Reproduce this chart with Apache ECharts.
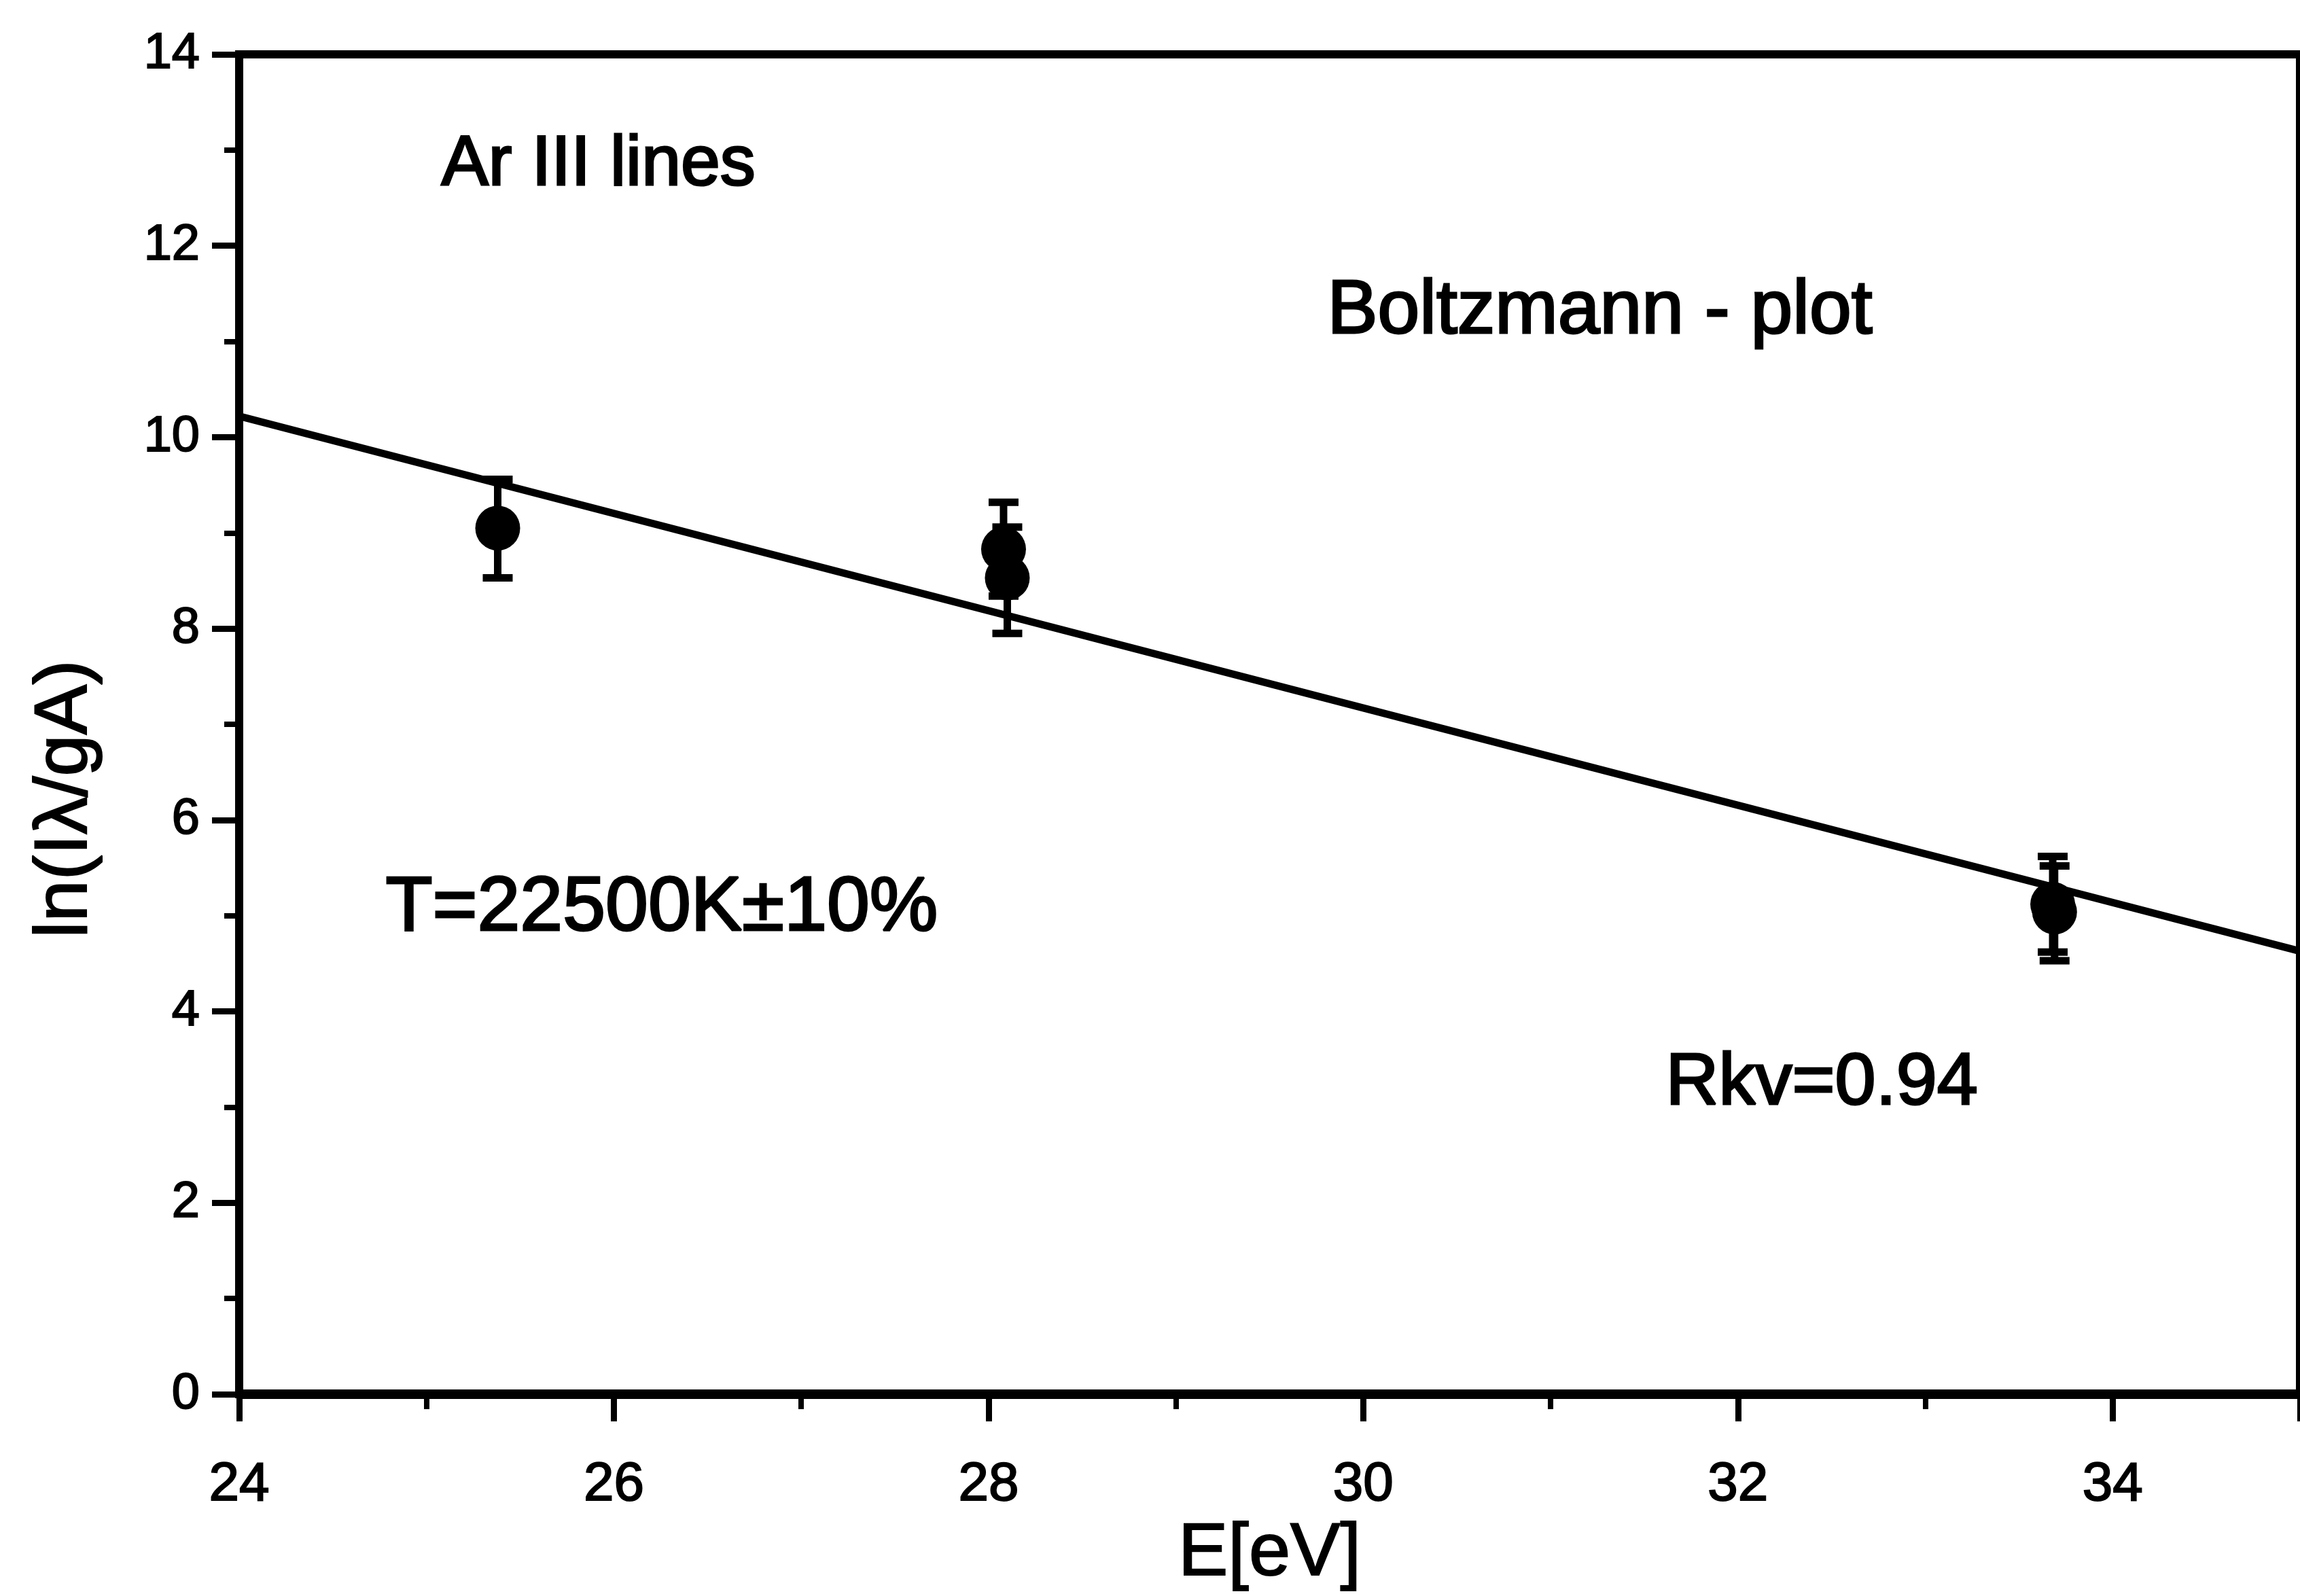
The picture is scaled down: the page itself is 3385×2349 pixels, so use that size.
<!DOCTYPE html>
<html>
<head>
<meta charset="utf-8">
<script src="https://cdn.jsdelivr.net/npm/echarts@6/dist/echarts.min.js"></script>
<style>
  html, body { margin: 0; padding: 0; background: #fff; }
  #chart { width: 3385px; height: 2349px; }
</style>
</head>
<body>
<div id="chart"></div>
<script>
// measured points (E in eV, ln(I*lambda/gA)) with error bar ends
const energy = [25.38, 28.08, 28.10, 33.68, 33.69];
const lnValue = [9.05, 8.83, 8.53, 5.12, 5.04];
const errLow = [8.53, 8.34, 7.95, 4.62, 4.53];
const errHigh = [9.56, 9.32, 9.06, 5.62, 5.52];

// fitted straight line
const fitX = [24, 35];
const fitY = [10.22, 4.63];

const xTicks = [24, 26, 28, 30, 32, 34];
const yTicks = [0, 2, 4, 6, 8, 10, 12, 14];

const chart = echarts.init(document.getElementById('chart'));

const font = 'Liberation Sans, Arial, sans-serif';

const points = energy.map((e, i) => [e, lnValue[i]]);
const bars = energy.map((e, i) => [e, errLow[i], errHigh[i]]);
const fitLine = fitX.map((x, i) => [x, fitY[i]]);

const renderErrorBar = (params, api) => {
  const top = api.coord([api.value(0), api.value(2)]);
  const bottom = api.coord([api.value(0), api.value(1)]);
  const half = 22;
  const style = { stroke: '#000', lineWidth: 11 };
  return {
    type: 'group',
    children: [
      { type: 'line', shape: { x1: top[0], y1: top[1], x2: bottom[0], y2: bottom[1] }, style },
      { type: 'line', shape: { x1: top[0] - half, y1: top[1], x2: top[0] + half, y2: top[1] }, style },
      { type: 'line', shape: { x1: bottom[0] - half, y1: bottom[1], x2: bottom[0] + half, y2: bottom[1] }, style }
    ]
  };
};

// scanned text looks heavy, thicken it with a thin outline
const note = (text, left, top, size) => ({
  type: 'text', left, top,
  style: { text, font: size + 'px ' + font, fill: '#000', stroke: '#000', lineWidth: 3 }
});

const option = {
  animation: false,
  backgroundColor: '#fff',
  grid: {
    left: 352, top: 80, right: -28, bottom: 296,
    show: true, borderColor: '#000', borderWidth: 12
  },
  xAxis: {
    type: 'value',
    min: 24, max: 35, interval: 2,
    name: 'E[eV]',
    nameLocation: 'middle',
    nameGap: 162,
    nameTextStyle: { fontFamily: font, fontSize: 110, color: '#000', textBorderColor: '#000', textBorderWidth: 2 },
    axisLine: { onZero: false, lineStyle: { color: '#000', width: 14 } },
    axisTick: { length: 40, lineStyle: { color: '#000', width: 9 } },
    minorTick: { show: true, splitNumber: 2, length: 22, lineStyle: { color: '#000', width: 8 } },
    axisLabel: {
      margin: 94, fontFamily: font, fontSize: 80, color: '#000', showMaxLabel: false,
      textBorderColor: '#000', textBorderWidth: 2,
      formatter: v => (xTicks.includes(v) ? String(v) : '')
    },
    splitLine: { show: false }
  },
  yAxis: {
    type: 'value',
    min: 0, max: 14, interval: 2,
    name: 'ln(Iλ/gA)',
    nameLocation: 'middle',
    nameGap: 200,
    nameTextStyle: {
      fontFamily: font, fontSize: 110, color: '#000', textBorderColor: '#000', textBorderWidth: 2,
      padding: [0, 220, 0, 0]
    },
    axisLine: { onZero: false, lineStyle: { color: '#000', width: 12 } },
    axisTick: { length: 40, lineStyle: { color: '#000', width: 9 } },
    minorTick: { show: true, splitNumber: 2, length: 22, lineStyle: { color: '#000', width: 8 } },
    axisLabel: {
      margin: 58, fontFamily: font, fontSize: 74, color: '#000',
      textBorderColor: '#000', textBorderWidth: 2,
      formatter: v => (yTicks.includes(v) ? String(v) : '')
    },
    splitLine: { show: false }
  },
  series: [
    {
      type: 'line',
      data: fitLine,
      showSymbol: false,
      lineStyle: { color: '#000', width: 11 },
      z: 2
    },
    {
      type: 'custom',
      data: bars,
      renderItem: renderErrorBar,
      z: 3
    },
    {
      type: 'scatter',
      data: points,
      symbol: 'circle',
      symbolSize: 66,
      itemStyle: { color: '#000', opacity: 1 },
      z: 4
    }
  ],
  graphic: [
    note('Ar III lines', 648, 190, 104),
    note('Boltzmann - plot', 1952, 402, 111),
    note('T=22500K±10%', 566, 1280, 113),
    note('Rkv=0.94', 2450, 1540, 108)
  ]
};

chart.setOption(option);
</script>
</body>
</html>
